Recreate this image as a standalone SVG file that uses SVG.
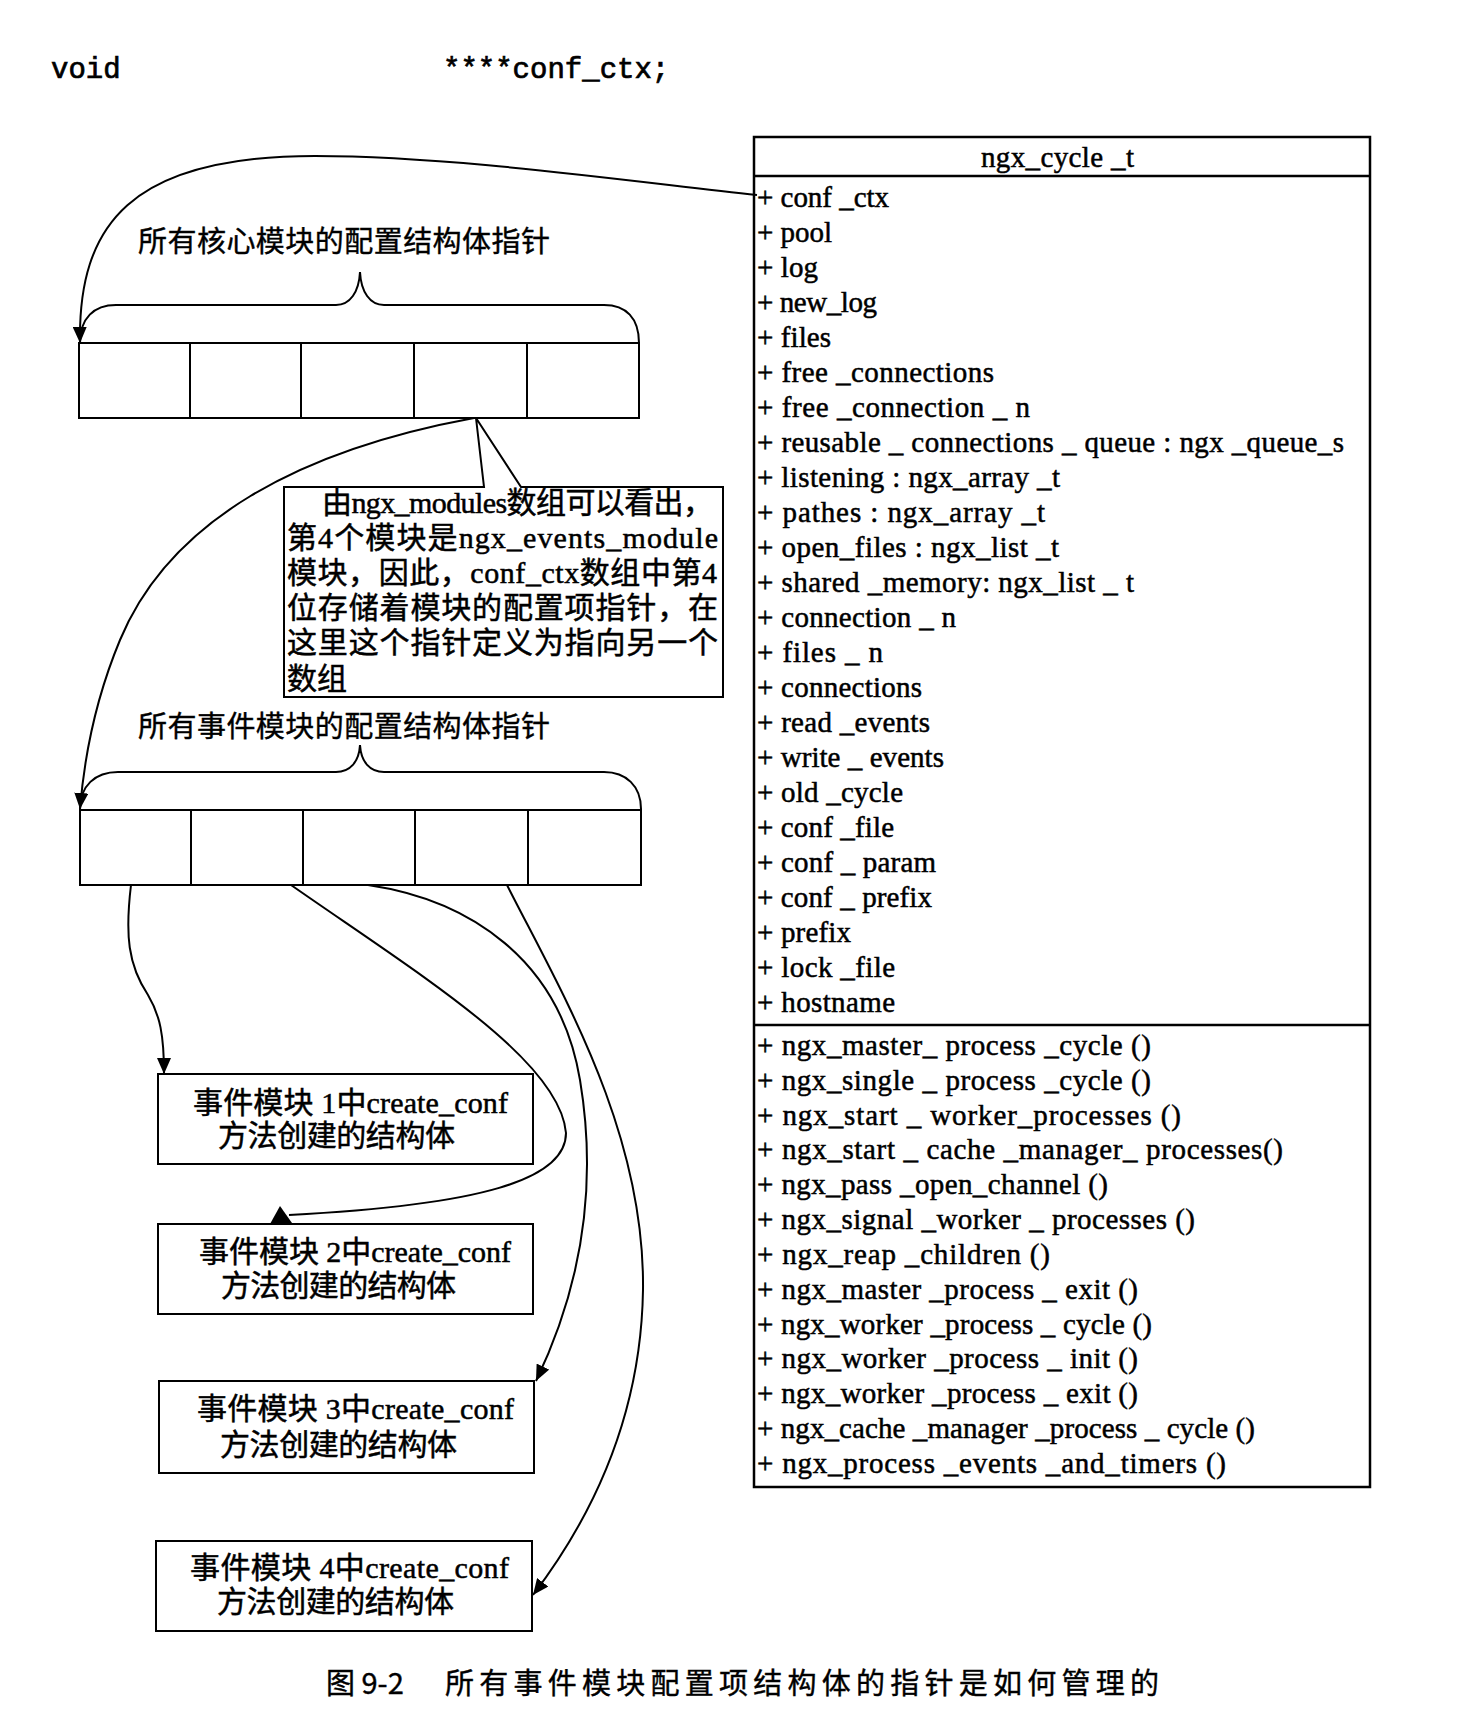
<svg xmlns="http://www.w3.org/2000/svg" width="1462" height="1734" viewBox="0 0 1462 1734">
<style>
  .mono { font-family: "Liberation Mono", "DejaVu Sans Mono", monospace; font-size: 29px; fill: #000; stroke: #000; stroke-width: 0.7; }
  .serif { font-family: "Liberation Serif", "Noto Sans CJK SC", serif; font-size: 29px; fill: #000; stroke: #000; stroke-width: 0.5; }
  .cjk { font-family: "Noto Sans CJK SC", sans-serif; font-size: 29px; fill: #000; stroke: #000; stroke-width: 0.4; }
  .mix { font-family: "Liberation Serif", "Noto Sans CJK SC", serif; font-size: 30px; fill: #000; stroke: #000; stroke-width: 0.5; }
  .box { fill: #fff; stroke: #000; stroke-width: 2; }
  .ln { fill: none; stroke: #000; stroke-width: 2; }
  .conn { fill: none; stroke: #000; stroke-width: 2; }
</style>
<defs>
  <marker id="arr" markerUnits="userSpaceOnUse" markerWidth="16" markerHeight="14" refX="16" refY="7" orient="auto">
    <path d="M0,0 L16,7 L0,14 Z" fill="#000"/>
  </marker>
</defs>
<rect x="0" y="0" width="1462" height="1734" fill="#fff"/>

<g id="decl">
  <text class="mono" x="51" y="78">void</text>
  <text class="mono" x="443" y="78">****conf_ctx;</text>
</g>

<g id="ngx_cycle_t">
  <rect x="754" y="137" width="616" height="1350" fill="#fff" stroke="#000" stroke-width="2.5"/>
  <line x1="754" y1="176" x2="1370" y2="176" stroke="#000" stroke-width="2.5"/>
  <line x1="754" y1="1025" x2="1370" y2="1025" stroke="#000" stroke-width="2.5"/>
  <text class="serif" x="981" y="167" textLength="153">ngx_cycle _t</text>
  <g class="serif">
    <text x="757" y="207" textLength="132">+ conf _ctx</text>
    <text x="757" y="242" textLength="75">+ pool</text>
    <text x="757" y="277" textLength="61">+ log</text>
    <text x="757" y="312" textLength="120">+ new_log</text>
    <text x="757" y="347" textLength="74">+ files</text>
    <text x="757" y="382" textLength="237">+ free _connections</text>
    <text x="757" y="417" textLength="273">+ free _connection _ n</text>
    <text x="757" y="452" textLength="587">+ reusable _ connections _ queue : ngx _queue_s</text>
    <text x="757" y="487" textLength="303">+ listening : ngx_array _t</text>
    <text x="757" y="522" textLength="288">+ pathes : ngx_array _t</text>
    <text x="757" y="557" textLength="302">+ open_files : ngx_list _t</text>
    <text x="757" y="592" textLength="377">+ shared _memory: ngx_list _ t</text>
    <text x="757" y="627" textLength="199">+ connection _ n</text>
    <text x="757" y="662" textLength="126">+ files _ n</text>
    <text x="757" y="697" textLength="165">+ connections</text>
    <text x="757" y="732" textLength="173">+ read _events</text>
    <text x="757" y="767" textLength="187">+ write _ events</text>
    <text x="757" y="802" textLength="146">+ old _cycle</text>
    <text x="757" y="837" textLength="137">+ conf _file</text>
    <text x="757" y="872" textLength="179">+ conf _ param</text>
    <text x="757" y="907" textLength="175">+ conf _ prefix</text>
    <text x="757" y="942" textLength="94">+ prefix</text>
    <text x="757" y="977" textLength="138">+ lock _file</text>
    <text x="757" y="1012" textLength="138">+ hostname</text>
    <text x="757" y="1055" textLength="394">+ ngx_master_ process _cycle ()</text>
    <text x="757" y="1090" textLength="394">+ ngx_single _ process _cycle ()</text>
    <text x="757" y="1125" textLength="424">+ ngx_start _ worker_processes ()</text>
    <text x="757" y="1159" textLength="526">+ ngx_start _ cache _manager_ processes()</text>
    <text x="757" y="1194" textLength="351">+ ngx_pass _open_channel ()</text>
    <text x="757" y="1229" textLength="438">+ ngx_signal _worker _ processes ()</text>
    <text x="757" y="1264" textLength="293">+ ngx_reap _children ()</text>
    <text x="757" y="1299" textLength="381">+ ngx_master _process _ exit ()</text>
    <text x="757" y="1334" textLength="395">+ ngx_worker _process _ cycle ()</text>
    <text x="757" y="1368" textLength="381">+ ngx_worker _process _ init ()</text>
    <text x="757" y="1403" textLength="381">+ ngx_worker _process _ exit ()</text>
    <text x="757" y="1438" textLength="498">+ ngx_cache _manager _process _ cycle ()</text>
    <text x="757" y="1473" textLength="469">+ ngx_process _events _and_timers ()</text>
  </g>
</g>

<g id="core_array">
  <text class="cjk" x="138" y="252" textLength="412">所有核心模块的配置结构体指针</text>
  <path class="ln" d="M80,343 C80,318 94,305 116,305 L336,305 C350,305 359,292 360,272 C361,292 370,305 384,305 L604,305 C626,305 639,318 639,343"/>
  <rect class="box" x="79" y="343" width="560" height="75"/>
  <line class="ln" x1="190" y1="343" x2="190" y2="418"/>
  <line class="ln" x1="301" y1="343" x2="301" y2="418"/>
  <line class="ln" x1="414" y1="343" x2="414" y2="418"/>
  <line class="ln" x1="527" y1="343" x2="527" y2="418"/>
</g>

<g id="callout">
  <path d="M284,487 L484,487 L476,418 L521,487 L723,487 L723,697 L284,697 Z" fill="#fff" stroke="#000" stroke-width="2"/>
  <text class="mix" x="322" y="513" textLength="391">由ngx_modules数组可以看出，</text>
  <text class="mix" x="287" y="548" textLength="431">第4个模块是ngx_events_module</text>
  <text class="mix" x="287" y="583" textLength="430">模块，因此，conf_ctx数组中第4</text>
  <text class="mix" x="287" y="618" textLength="431">位存储着模块的配置项指针，在</text>
  <text class="mix" x="287" y="653" textLength="431">这里这个指针定义为指向另一个</text>
  <text class="mix" x="287" y="689">数组</text>
</g>

<g id="event_array">
  <text class="cjk" x="138" y="737" textLength="412">所有事件模块的配置结构体指针</text>
  <path class="ln" d="M80,809 C80,786 95,772 118,772 L336,772 C350,772 359,762 360,745 C361,762 370,772 384,772 L604,772 C626,772 641,786 641,809"/>
  <rect class="box" x="80" y="810" width="561" height="75"/>
  <line class="ln" x1="191" y1="810" x2="191" y2="885"/>
  <line class="ln" x1="303" y1="810" x2="303" y2="885"/>
  <line class="ln" x1="415" y1="810" x2="415" y2="885"/>
  <line class="ln" x1="528" y1="810" x2="528" y2="885"/>
</g>

<g id="event_conf_1">
  <rect class="box" x="158" y="1074" width="375" height="90"/>
  <text class="mix" x="193" y="1113" textLength="315">事件模块 1中create_conf</text>
  <text class="mix" x="218" y="1146" textLength="237">方法创建的结构体</text>
</g>
<g id="event_conf_2">
  <rect class="box" x="158" y="1224" width="375" height="90"/>
  <text class="mix" x="199" y="1262" textLength="312">事件模块 2中create_conf</text>
  <text class="mix" x="221" y="1296" textLength="235">方法创建的结构体</text>
</g>
<g id="event_conf_3">
  <rect class="box" x="159" y="1381" width="375" height="92"/>
  <text class="mix" x="197" y="1419" textLength="317">事件模块 3中create_conf</text>
  <text class="mix" x="220" y="1455" textLength="237">方法创建的结构体</text>
</g>
<g id="event_conf_4">
  <rect class="box" x="156" y="1541" width="376" height="90"/>
  <text class="mix" x="190" y="1578" textLength="319">事件模块 4中create_conf</text>
  <text class="mix" x="217" y="1612" textLength="237">方法创建的结构体</text>
</g>

<g id="connectors">
  <path class="conn" d="M757,195 C620,180 450,156 315,156 C130,156 78,225 80,343" marker-end="url(#arr)"/>
  <path class="conn" d="M474,418 C300,450 170,520 120,640 C95,700 84,760 80,809" marker-end="url(#arr)"/>
  <path class="conn" d="M131,885 C125,935 128,965 148,995 C160,1015 164,1035 164,1074" marker-end="url(#arr)"/>
  <path class="conn" d="M291,885 C420,975 560,1060 566,1133 C566,1180 480,1205 289,1215"/>
  <polygon points="280,1206 270,1224 292,1223" fill="#000"/>
  <path class="conn" d="M368,885 C470,900 560,960 580,1080 C600,1200 575,1300 536,1381" marker-end="url(#arr)"/>
  <path class="conn" d="M507,885 C560,990 645,1130 643,1290 C641,1420 590,1520 533,1595" marker-end="url(#arr)"/>
</g>

<g id="caption">
  <text class="cjk" x="326" y="1694" font-size="34" stroke-width="0.7">图 9-2</text>
  <text class="cjk" x="445" y="1694" font-size="34" stroke-width="0.7" textLength="714">所有事件模块配置项结构体的指针是如何管理的</text>
</g>
</svg>
